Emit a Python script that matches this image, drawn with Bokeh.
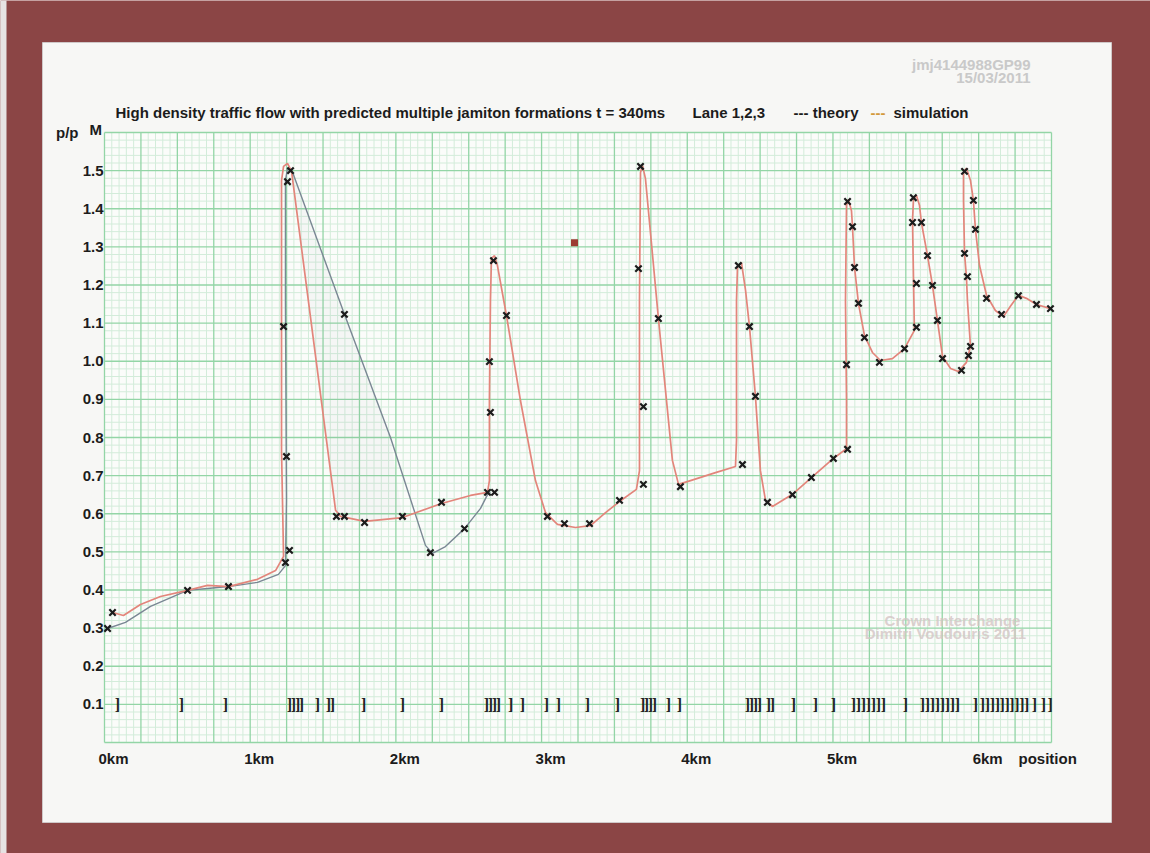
from bokeh.plotting import figure
from bokeh.models import Range1d, ColumnDataSource
from bokeh.core.properties import value
from bokeh.embed import file_html
from bokeh.resources import INLINE

# ---- density profile rho/rho_M along the road (position in km) ----
sim_x = [0.055, 0.130, 0.247, 0.384, 0.570, 0.707, 0.851, 1.050, 1.174, 1.229,
         1.215, 1.215, 1.215, 1.229, 1.256, 1.284, 1.586, 1.620, 1.785, 2.045,
         2.313, 2.512, 2.629, 2.642, 2.642, 2.649, 2.656, 2.677, 2.697, 2.759,
         2.855, 2.958, 3.027, 3.109, 3.233, 3.336, 3.439, 3.535, 3.651, 3.672,
         3.672, 3.679, 3.693, 3.713, 3.802, 3.898, 3.940, 4.022, 4.194, 4.331,
         4.338, 4.338, 4.345, 4.372, 4.400, 4.427, 4.468, 4.502, 4.537, 4.585,
         4.722, 4.852, 5.003, 5.093, 5.093, 5.086, 5.093, 5.106, 5.127, 5.134,
         5.148, 5.175, 5.216, 5.271, 5.326, 5.408, 5.491, 5.559, 5.553, 5.546,
         5.553, 5.573, 5.594, 5.607, 5.649, 5.683, 5.717, 5.752, 5.807, 5.861,
         5.916, 5.944, 5.923, 5.916, 5.903, 5.896, 5.896, 5.916, 5.944, 5.964,
         5.978, 6.006, 6.054, 6.115, 6.170, 6.218, 6.273, 6.328, 6.397, 6.493]
sim_y = [0.341, 0.333, 0.362, 0.383, 0.399, 0.412, 0.409, 0.428, 0.451, 0.488,
         0.766, 1.159, 1.474, 1.511, 1.519, 1.498, 0.609, 0.593, 0.580, 0.590,
         0.627, 0.648, 0.656, 0.687, 0.897, 1.159, 1.270, 1.277, 1.251, 1.120,
         0.897, 0.687, 0.603, 0.572, 0.564, 0.569, 0.603, 0.632, 0.664, 0.713,
         1.159, 1.495, 1.513, 1.479, 1.112, 0.740, 0.677, 0.687, 0.708, 0.724,
         0.792, 1.159, 1.249, 1.259, 1.186, 1.091, 0.908, 0.713, 0.635, 0.619,
         0.651, 0.695, 0.745, 0.771, 0.897, 1.159, 1.409, 1.424, 1.395, 1.353,
         1.246, 1.152, 1.068, 1.023, 1.002, 1.007, 1.033, 1.081, 1.212, 1.369,
         1.427, 1.435, 1.409, 1.364, 1.277, 1.199, 1.107, 1.013, 0.981, 0.973,
         0.997, 1.039, 1.159, 1.222, 1.283, 1.422, 1.495, 1.506, 1.474, 1.422,
         1.346, 1.251, 1.173, 1.133, 1.117, 1.144, 1.173, 1.165, 1.149, 1.138]

theory_x = [0.000, 0.021, 0.144, 0.316, 0.570, 0.707, 0.851, 1.050, 1.194, 1.242,
            1.249, 1.242, 1.242, 1.256, 1.284, 1.647, 1.963, 2.203, 2.251, 2.340,
            2.471, 2.581, 2.629, 2.649]
theory_y = [0.294, 0.299, 0.315, 0.357, 0.399, 0.404, 0.409, 0.420, 0.441, 0.464,
            0.635, 1.159, 1.474, 1.506, 1.503, 1.123, 0.800, 0.517, 0.496, 0.514,
            0.561, 0.614, 0.650, 0.656]

# sampled points (crosses)
obs_x = [0.021, 0.055, 0.570, 0.851, 1.242, 1.270, 1.249, 1.229, 1.256, 1.277,
         1.647, 1.592, 1.647, 1.785, 2.045, 2.237, 2.313, 2.471, 2.629, 2.677,
         2.642, 2.649, 2.670, 2.759, 3.040, 3.157, 3.329, 3.535, 3.679, 3.665,
         3.699, 3.699, 3.802, 3.953, 4.351, 4.427, 4.468, 4.379, 4.550, 4.722,
         4.852, 5.003, 5.100, 5.093, 5.100, 5.134, 5.148, 5.175, 5.216, 5.319,
         5.491, 5.573, 5.552, 5.546, 5.607, 5.573, 5.649, 5.683, 5.717, 5.752,
         5.882, 5.930, 5.944, 5.903, 5.964, 5.978, 5.903, 5.923, 6.054, 6.157,
         6.273, 6.397, 6.493]
obs_y = [0.299, 0.341, 0.399, 0.409, 0.472, 0.504, 0.750, 1.091, 1.471, 1.500,
         1.123, 0.593, 0.593, 0.577, 0.593, 0.498, 0.630, 0.561, 0.656, 0.656,
         0.999, 0.866, 1.264, 1.120, 0.593, 0.574, 0.574, 0.635, 1.511, 1.243,
         0.881, 0.677, 1.112, 0.671, 1.251, 1.091, 0.908, 0.729, 0.630, 0.650,
         0.695, 0.745, 0.769, 0.991, 1.419, 1.353, 1.246, 1.152, 1.062, 0.997,
         1.033, 1.089, 1.429, 1.364, 1.364, 1.204, 1.277, 1.199, 1.107, 1.007,
         0.976, 1.015, 1.039, 1.498, 1.422, 1.346, 1.283, 1.222, 1.165, 1.123,
         1.172, 1.149, 1.138]

# vehicle positions shown as brackets on the 0.1 row
vehicle_x = [0.089, 0.528, 0.830, 1.270, 1.297, 1.325, 1.352, 1.462, 1.537, 1.565,
             1.778, 2.045, 2.313, 2.622, 2.649, 2.677, 2.704, 2.787, 2.869, 3.034,
             3.116, 3.315, 3.521, 3.693, 3.720, 3.747, 3.775, 3.871, 3.946, 4.413,
             4.441, 4.468, 4.496, 4.557, 4.585, 4.729, 4.880, 5.003, 5.141, 5.175,
             5.209, 5.244, 5.278, 5.312, 5.347, 5.498, 5.614, 5.649, 5.683, 5.717,
             5.752, 5.786, 5.820, 5.854, 5.978, 6.026, 6.060, 6.094, 6.128, 6.161,
             6.195, 6.229, 6.263, 6.297, 6.330, 6.383, 6.445, 6.490]
vehicle_row = 0.1

stray_x = [3.226]
stray_y = [1.311]

x_ticks = [0, 1, 2, 3, 4, 5, 6]
x_tick_labels = ["0km", "1km", "2km", "3km", "4km", "5km", "6km"]
y_ticks = [0.1, 0.2, 0.3, 0.4, 0.5, 0.6, 0.7, 0.8, 0.9, 1.0, 1.1, 1.2, 1.3, 1.4, 1.5]
y_tick_labels = ["0.1", "0.2", "0.3", "0.4", "0.5", "0.6", "0.7", "0.8", "0.9", "1.0",
                 "1.1", "1.2", "1.3", "1.4", "1.5"]

# ---- sheet geometry (pixels on the page) ----
W, H = 1150, 853
FRAME_L, FRAME_R, FRAME_T, FRAME_B = 104, 1051, 132, 742
X_MAX, Y_MAX = 6.5, 1.6
KM_PX = (FRAME_R - FRAME_L) / X_MAX
Y_PX = (FRAME_B - FRAME_T) / Y_MAX


def sx(px):
    return (px - FRAME_L) / KM_PX


def sy(py):
    return (FRAME_B - py) / Y_PX


FONT = "Liberation Sans"
INK = "#1c1c1c"
GRID_MAJOR = "#93d5a6"
GRID_MINOR = "#d3ecda"
PAPER = "#f7f7f5"
MOUNT = "#8b4545"

p = figure(width=W, height=H, x_range=Range1d(sx(0), sx(W)), y_range=Range1d(sy(H), sy(0)),
           output_backend="svg", toolbar_location=None, title=None,
           x_axis_type=None, y_axis_type=None, min_border=0)
p.outline_line_color = None
p.background_fill_color = MOUNT
p.border_fill_color = MOUNT

# mount and sheet
p.quad(left=[sx(-10)], right=[sx(6)], top=[sy(-10)], bottom=[sy(H + 10)],
       fill_color="#e6e2e2", line_color=None)
p.quad(left=[sx(42)], right=[sx(1111)], top=[sy(42)], bottom=[sy(822)],
       fill_color=PAPER, line_color="#cfc8c8", line_width=1)

# graph paper: 4 major cells per km, 0.1 per major row, 5 subdivisions each
p.quad(left=[0], right=[X_MAX], top=[Y_MAX], bottom=[0], fill_color="#fbfcfa", line_color=None)
gx_minor = [i * 0.05 for i in range(131) if i % 5]
gx_major = [i * 0.25 for i in range(27)]
gy_minor = [i * 0.02 for i in range(81) if i % 5]
gy_major = [i * 0.1 for i in range(17)]
p.segment(x0=gx_minor, y0=0, x1=gx_minor, y1=Y_MAX, line_color=GRID_MINOR, line_width=1)
p.segment(x0=0, y0=gy_minor, x1=X_MAX, y1=gy_minor, line_color=GRID_MINOR, line_width=1)
p.segment(x0=gx_major, y0=0, x1=gx_major, y1=Y_MAX, line_color=GRID_MAJOR, line_width=1.3)
p.segment(x0=0, y0=gy_major, x1=X_MAX, y1=gy_major, line_color=GRID_MAJOR, line_width=1.3)

# faint shading between theory and simulation in the first jamiton
shade_x = theory_x[14:17] + sim_x[19:14:-1]
shade_y = theory_y[14:17] + sim_y[19:14:-1]
p.patch(shade_x, shade_y, fill_color="#5d6d7d", fill_alpha=0.04, line_color=None)

p.line(theory_x, theory_y, line_color="#7a8794", line_width=1.4)
p.line(sim_x, sim_y, line_color="#e3857b", line_width=1.7)

p.scatter(obs_x, obs_y, marker="x", size=9, line_color=INK, line_width=2.2)

veh = ColumnDataSource(dict(x=vehicle_x, y=[vehicle_row] * len(vehicle_x),
                            t=["]"] * len(vehicle_x)))
p.text(x="x", y="y", text="t", source=veh, text_font=value("Liberation Serif"),
       text_font_style="bold", text_font_size="16px", text_align="center",
       text_baseline="middle", text_color="#222222")

p.scatter(stray_x, stray_y, marker="square", size=7, fill_color="#9c3b32",
          line_color=None)


# ---- texts ----
def txt(xs, ys, texts, color=INK, align="left", size="15px", alpha=1.0, dx=0):
    p.text(x=xs, y=ys, text=texts, text_font=value(FONT), text_font_style="bold",
           text_font_size=size, text_color=color, text_align=align,
           text_baseline="middle", text_alpha=alpha, x_offset=dx)


# tick labels
txt(x_ticks, [sy(758)] * len(x_ticks), x_tick_labels, align="center", dx=9)
txt([sx(103)] * len(y_ticks), y_ticks, y_tick_labels, align="right")
txt([sx(1018)], [sy(758)], ["position"])
txt([sx(78)], [Y_MAX], ["p/p"], align="right")
txt([sx(89)], [sy(129)], ["M"])

ty = sy(112)
txt([sx(115)], [ty], ["High density traffic flow with predicted multiple jamiton formations t = 340ms"])
txt([sx(692)], [ty], ["Lane 1,2,3"])
txt([sx(793)], [ty], ["--- theory"])
txt([sx(870)], [ty], ["---"], color="#d39a3a")
txt([sx(893)], [ty], ["simulation"])

txt([sx(1030)], [sy(64)], ["jmj4144988GP99"], color="#c9c9c9", align="right")
txt([sx(1030)], [sy(77)], ["15/03/2011"], color="#c9c9c9", align="right")

txt([sx(952)], [sy(620)], ["Crown Interchange"], color="#d3c4c4", align="center", alpha=0.8)
txt([sx(945)], [sy(633)], ["Dimitri Voudouris 2011"], color="#d3c4c4", align="center", alpha=0.8)

open("out.html", "w").write(file_html(p, INLINE))
